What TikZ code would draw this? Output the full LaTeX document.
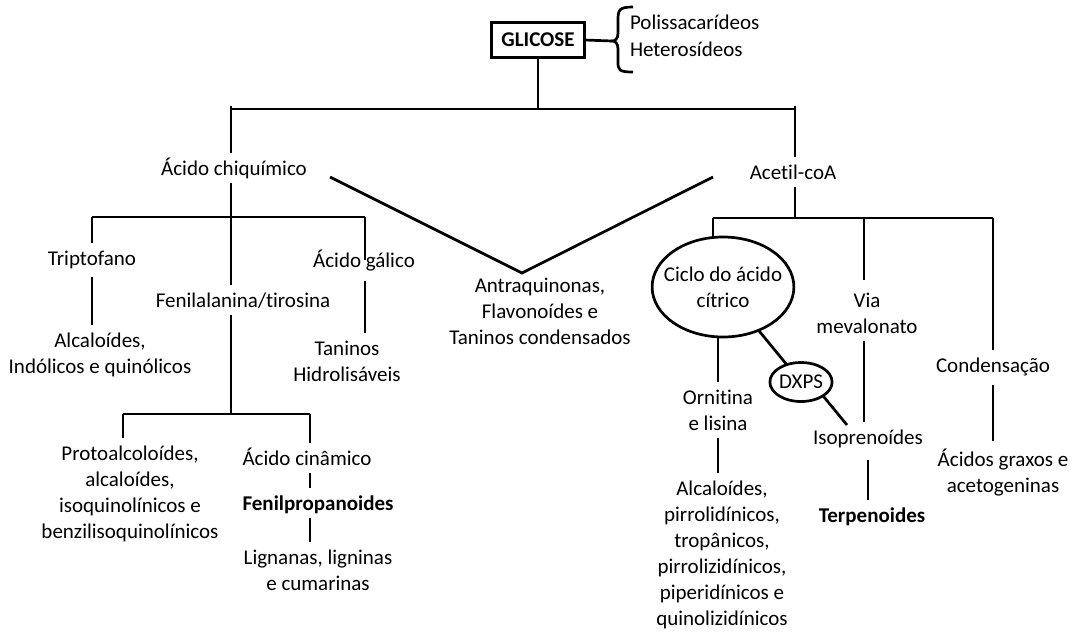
\documentclass[tikz,border=0pt]{standalone}
\usepackage{fontspec}
\setmainfont{Carlito}[Ligatures={NoCommon}]
\usetikzlibrary{shapes.geometric}
\begin{document}
\begin{tikzpicture}[x=1pt,y=-1pt,
  ln/.style={line width=2.7pt},
  lbl/.style={font=\fontsize{21}{26}\selectfont, inner sep=0pt, outer sep=8pt, align=center, text height=14pt, text depth=0pt},
  mlbl/.style={font=\fontsize{21}{26}\selectfont, inner sep=0pt, outer sep=8pt, align=center},
  bld/.style={lbl, font=\fontsize{21}{26}\selectfont\bfseries},
  oval/.style={ellipse, draw, line width=2.7pt, inner sep=0pt, outer sep=0pt, font=\fontsize{21}{26}\selectfont, align=center},
  gbox/.style={draw, line width=2.7pt, inner sep=0pt, outer sep=0pt, minimum width=93pt, minimum height=35pt, font=\fontsize{21}{26}\selectfont\bfseries}]
\useasboundingbox (0,0) rectangle (1089,632);

% top
\node[gbox] (glc) at (538,40) {GLICOSE};
\node[lbl, anchor=west, outer sep=0pt] (pol) at (630,22) {Polissacarídeos};
\node[lbl, anchor=west, outer sep=0pt] (het) at (630,49) {Heterosídeos};
\coordinate (btip) at (612,41);
\coordinate (btop) at (633,7);
\coordinate (bbot) at (633,72);
\draw[ln] (glc.east) -- (btip);
\draw[ln] (btop) .. controls (619,7) and (618,10) .. (618,20) -- (618,33)
  .. controls (618,39) and (615,41) .. (btip)
  .. controls (615,41) and (618,43) .. (618,49) -- (618,62)
  .. controls (618,70) and (619,72) .. (bbot);

\coordinate (jt) at (538,109);
\coordinate (jl) at (231,109);
\coordinate (jr) at (795,109);
\coordinate (jlt) at (231,106);
\coordinate (jrt) at (795,106);
\draw[ln] (glc.south) -- (jt);
\draw[ln] (jl) -- (jr);

% left branch
\node[lbl] (chq) at (234,168) {Ácido chiquímico};
\draw[ln] (jlt) -- (jlt |- chq.north);
\coordinate (jL1) at (92,217);
\coordinate (jL2) at (231,217);
\coordinate (jL3) at (365,217);
\draw[ln] (jL1) -- (jL3);
\node[lbl] (trp) at (92,258) {Triptofano};
\node[mlbl] (alA) at (100,355) {Alcaloídes,\\Indólicos e quinólicos};
\node[lbl] (fen) at (243,300) {Fenilalanina/tirosina};
\node[lbl] (gal) at (364,260) {Ácido gálico};
\node[mlbl] (tan) at (347,361) {Taninos\\Hidrolisáveis};
\draw[ln] (jL1) -- (jL1 |- trp.north);
\draw[ln, shorten <=4pt] (trp.south) -- (trp.south |- alA.north);
\draw[ln] (jL2 |- chq.south) -- (jL2 |- fen.north);
\draw[ln] (jL3) -- (jL3 |- gal.center);
\draw[ln, shorten <=6pt] (jL3 |- gal.south) -- (jL3 |- tan.north);

\coordinate (jF1) at (123,414);
\coordinate (jF2) at (231,414);
\coordinate (jF3) at (310,414);
\draw[ln] (jL2 |- fen.south) -- (jF2);
\draw[ln] (jF1) -- (jF3);
\node[mlbl] (pro) at (130,494) {Protoalcoloídes,\\alcaloídes,\\isoquinolínicos e\\benzilisoquinolínicos};
\node[lbl] (cin) at (307,458) {Ácido cinâmico};
\node[bld] (fpp) at (318,503) {Fenilpropanoides};
\node[mlbl] (lig) at (318,570) {Lignanas, ligninas\\e cumarinas};
\draw[ln] (jF1) -- (jF1 |- pro.north);
\draw[ln] (jF3) -- (jF3 |- cin.north);
\draw[ln] (jF3 |- cin.south) -- (jF3 |- fpp.north);
\draw[ln] (jF3 |- fpp.south) -- (jF3 |- lig.north);

% middle
\node[mlbl] (ant) at (540,311) {Antraquinonas,\\Flavonoídes e\\Taninos condensados};
\coordinate (vA) at (330,177);
\coordinate (vB) at (522,273);
\coordinate (vC) at (713,177);
\draw[ln] (vA) -- (vB) -- (vC);

% right branch
\node[lbl] (act) at (793,172) {Acetil-coA};
\draw[ln] (jrt) -- (jrt |- act.north);
\coordinate (jR1) at (713,218);
\coordinate (jR2) at (795,218);
\coordinate (jR3) at (864,218);
\coordinate (jR4) at (993,218);
\draw[ln] (jR2 |- act.south) -- (jR2);
\draw[ln] (jR1) -- (jR4);
\node[oval, minimum width=140pt, minimum height=100pt, inner xsep=-9pt] (cyc) at (723,287) {Ciclo do ácido\\cítrico};
\node[mlbl] (via) at (867,313) {Via\\mevalonato};
\node[lbl] (cnd) at (993,365) {Condensação};
\node[mlbl] (orn) at (718,410) {Ornitina\\e lisina};
\node[oval, minimum width=62pt, minimum height=39pt] (dxp) at (801,382) {DXPS};
\node[lbl] (iso) at (868,437) {Isoprenoídes};
\node[bld] (ter) at (872,515) {Terpenoides};
\node[mlbl] (alB) at (722,555) {Alcaloídes,\\pirrolidínicos,\\tropânicos,\\pirrolizidínicos,\\piperidínicos e\\quinolizidínicos};
\node[mlbl] (acg) at (1003,473) {Ácidos graxos e\\acetogeninas};
\coordinate (dxi) at (847,425);

\draw[ln] (jR1) -- (jR1 |- cyc.north);
\draw[ln, shorten >=5pt] (jR3) -- (jR3 |- via.north);
\draw[ln] (jR4) -- (jR4 |- cnd.north);
\draw[ln] (cyc.south -| orn.north) -- (orn.north);
\draw[ln] (orn.south) -- (orn.south |- alB.north);
\draw[ln] (cyc) -- (dxp);
\draw[ln] (dxp.south east) -- (dxi);
\draw[ln] (jR3 |- via.south) -- (jR3 |- iso.north);
\draw[ln, shorten <=8pt] (iso.south) -- (iso.south |- ter.north);
\draw[ln, shorten <=5pt] (cnd.south) -- (cnd.south |- acg.north);
\end{tikzpicture}
\end{document}
